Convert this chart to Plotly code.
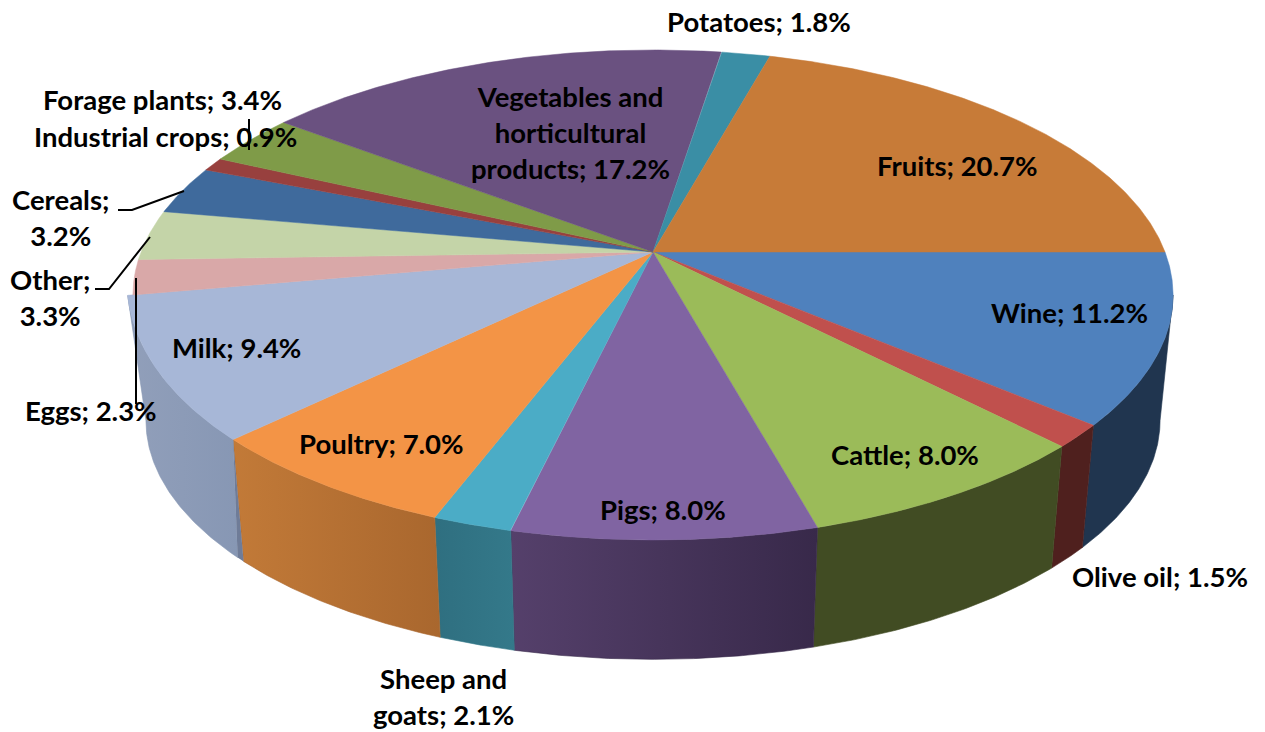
import numpy as np
import plotly.graph_objects as go

categories = ["Wine", "Olive oil", "Cattle", "Pigs", "Sheep and goats", "Poultry", "Milk", "Eggs",
              "Other", "Cereals", "Industrial crops", "Forage plants",
              "Vegetables and horticultural products", "Potatoes", "Fruits"]
values = [11.2, 1.5, 8.0, 8.0, 2.1, 7.0, 9.4, 2.3, 3.3, 3.2, 0.9, 3.4, 17.2, 1.8, 20.7]

# styling
top_colors = ["#4F81BD", "#C0504D", "#9BBB59", "#8064A2", "#4BACC6", "#F39446", "#A7B7D7", "#D9A8A8",
              "#C4D4A8", "#3F6A9C", "#98403E", "#7F9B48", "#6A5180", "#3A8EA5", "#C77B38"]
wall_left = ["#20354F", "#4F201E", "#414C23", "#55406B", "#2F6F80", "#C27A38", "#919FBA", "#000000",
             "#000000", "#000000", "#000000", "#000000", "#000000", "#000000", "#000000"]
wall_right = ["#20354F", "#4F201E", "#414C23", "#38294A", "#34798A", "#A9672E", "#8797B4", "#000000",
              "#000000", "#000000", "#000000", "#000000", "#000000", "#000000", "#000000"]
label_lines = {"Sheep and goats": ["Sheep and", "goats"],
               "Vegetables and horticultural products": ["Vegetables and", "horticultural", "products"],
               "Other": ["Other"], "Cereals": ["Cereals"]}
label_pos = {"Wine": (1069, 312.5), "Olive oil": (1160, 576.5), "Cattle": (905, 454.5), "Pigs": (663, 509.5),
             "Sheep and goats": (443, 696.5), "Poultry": (381, 443.5), "Milk": (236, 347.5), "Eggs": (91, 410.5),
             "Other": (50, 297.5), "Cereals": (60, 217.5), "Industrial crops": (165, 136.5),
             "Forage plants": (162, 99.5), "Vegetables and horticultural products": (570, 132.5),
             "Potatoes": (759, 21.5), "Fruits": (957, 165.5)}

CX, CY, RX, RY, PERSP = 653.0, 252.0, 512.0, 237.5, 0.1755
DEPTH, SHRINK = 126.5, 0.975
MILK_BULGE = 0.01
LABEL_FONT = dict(family="Lato", size=27.5, color="#000000", weight=700)


def project(theta, level=0.0, bulge=None):
    """Perspective projection of a point on the unit circle to the canvas (level 1 = bottom face)."""
    u, v = np.cos(theta), np.sin(theta)
    w = 1 - PERSP * v
    s = 1 + (SHRINK - 1) * level
    r = 1.0 if bulge is None else bulge
    return CX + r * s * RX * u / w, CY + DEPTH * level + r * s * RY * v / w


shares = np.array(values) / sum(values)
edges = np.concatenate([[0], np.cumsum(shares)]) * 2 * np.pi
silhouette = np.arcsin(PERSP)  # angle at which the disc's side turns out of view


def rim_scale(name, t, start, end):
    if name != "Milk":
        return None
    return 1 + MILK_BULGE * ((t - start) / (end - start)) ** 3


fig = go.Figure()

# outer walls, front part only is visible
for i in range(7):
    start, end = max(edges[i], silhouette), min(edges[i + 1], np.pi - silhouette)
    t = np.linspace(start, end, 80)
    b = np.linspace(start + 0.018, end, 80) if categories[i] == "Milk" else t
    xt, yt = project(t, 0, rim_scale(categories[i], t, edges[i], edges[i + 1]))
    xb, yb = project(b[::-1], 1)
    fig.add_trace(go.Scatter(
        x=np.concatenate([xt, xb, xt[:1]]), y=np.concatenate([yt, yb, yt[:1]]),
        mode="lines", fill="toself", line=dict(width=0.6, color=wall_right[i]),
        hoverinfo="skip", showlegend=False,
        fillgradient=dict(type="horizontal", colorscale=[[0, wall_left[i]], [1, wall_right[i]]])))
    if categories[i] == "Milk":
        x0, y0 = project(np.array([start]), 0)
        x1, y1 = project(np.array([start, start + 0.018]), 1)
        fig.add_trace(go.Scatter(
            x=[x0[0], x1[0], x1[1], x0[0]], y=[y0[0], y1[0], y1[1], y0[0]],
            mode="lines", fill="toself", line=dict(width=0), fillcolor="#6F7C98",
            hoverinfo="skip", showlegend=False))

# top faces
for i in range(len(values)):
    t = np.linspace(edges[i], edges[i + 1], 160)
    x, y = project(t, 0, rim_scale(categories[i], t, edges[i], edges[i + 1]))
    fig.add_trace(go.Scatter(
        x=np.concatenate([[CX], x, [CX]]), y=np.concatenate([[CY], y, [CY]]),
        mode="lines", fill="toself", fillcolor=top_colors[i],
        line=dict(width=0.5, color=top_colors[i]), hoverinfo="skip", showlegend=False))

annotations = []
for name, v in zip(categories, values):
    parts = label_lines.get(name, [name])
    if name in ("Other", "Cereals"):
        text = f"{name};<br>{v:.1f}%"
    else:
        text = "<br>".join(parts[:-1] + [f"{parts[-1]}; {v:.1f}%"])
    px, py = label_pos[name]
    annotations.append(dict(x=px, y=py, xref="x", yref="y", text=text, showarrow=False,
                            xanchor="center", yanchor="middle", font=LABEL_FONT, align="center"))

leaders = ["M 249 119 L 249 150", "M 118 210 L 132 210 L 184 191",
           "M 95 289 L 109 289 L 150 237", "M 136 278 L 136 404"]
shapes = [dict(type="path", path=p, xref="x", yref="y", line=dict(color="#000000", width=2), layer="above")
          for p in leaders]

fig.update_layout(
    width=1265, height=732, autosize=False, margin=dict(l=0, r=0, t=0, b=0),
    paper_bgcolor="#FFFFFF", plot_bgcolor="#FFFFFF", showlegend=False,
    xaxis=dict(range=[0, 1265], visible=False, fixedrange=True),
    yaxis=dict(range=[732, 0], visible=False, fixedrange=True),
    annotations=annotations, shapes=shapes)

fig.write_html("out.html", config=dict(displayModeBar=False),
               post_script="document.body.style.margin='0';document.body.style.overflow='hidden';")
